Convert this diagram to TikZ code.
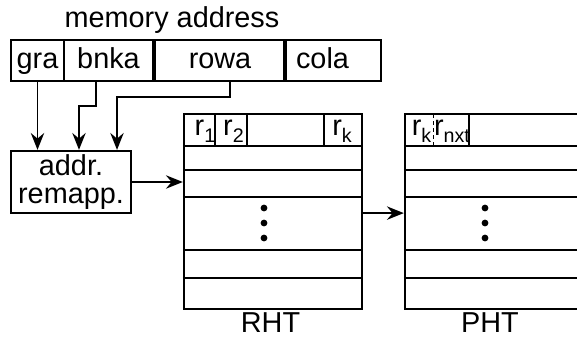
\documentclass[tikz,border=0pt]{standalone}
\usepackage{fontspec}
\setmainfont{Liberation Sans}
\usetikzlibrary{arrows.meta}
\newcommand{\rsub}[2]{#1\raisebox{-5.5pt}{\fontsize{14}{14}\selectfont #2}}
\tikzset{
	field/.style={draw, line width=1.6pt, minimum height=1.025cm, inner sep=0pt, text height=15pt, text depth=4pt},
	table/.style={draw, line width=1.6pt, minimum width=4.45cm, minimum height=4.875cm, inner sep=0pt},
	row/.style={line width=1.3pt},
	arr/.style={-{Stealth[length=12pt,width=9.5pt,inset=4pt]}, line width=1.3pt}
}
\begin{document}
\begin{tikzpicture}[x=0.025cm, y=-0.025cm, font=\fontsize{20.5}{20}\selectfont]
	\useasboundingbox (0,0) rectangle (577,345);
	\clip (0,0) rectangle (577,345);
	
	\node[anchor=base] (memaddr) at (172,27) {memory address};
	\node[field, minimum width=1.325cm] (gra) at (37.5,60.5) {gra};
	\node[field, minimum width=2.225cm] (bnka) at (108.5,60.5) {bnka};
	\node[field, minimum width=3.275cm] (rowa) at (220,60.5) {rowa};
	\node[field, minimum width=2.425cm] (cola) at (332.5,60.5) {\hspace*{-0.5cm}cola};
	
	\node[draw, line width=1.6pt, minimum width=3cm, minimum height=1.55cm, inner sep=0pt, align=center] (remap) at (71,182) {addr.\\remapp.};
	
	\draw[arr] (gra.south) -- (gra.south |- remap.north);
	\draw[arr] ([xshift=-0.3125cm]bnka.south) -- ++(0,24) -| ([xshift=0.2cm]remap.north);
	\draw[arr] ([xshift=0.25cm]rowa.south) -- ++(0,15) -| ([xshift=1.15cm]remap.north);
	
	\node[table] (rht) at (273,211.5) {};
	\foreach \y in {146,170,197,250,278}
		\draw[row] (rht.west |- 0,\y) -- (rht.east |- 0,\y);
	\foreach \x in {215,247,324}
		\draw[row] (\x,114) -- (\x,146);
	\node[anchor=base] (r1) at (205,135) {\rsub{r}{1}};
	\node[anchor=base] (r2) at (233.5,135) {\rsub{r}{2}};
	\node[anchor=base] (rk) at (342,135) {\rsub{r}{k}};
	\foreach \y in {208,223,238}
		\fill (264,\y) circle (3.4);
	\node[anchor=base] (rhtlabel) at (270.5,332) {RHT};
	
	\node[table] (pht) at (494,211.5) {};
	\foreach \y in {146,170,197,250,278}
		\draw[row] (pht.west |- 0,\y) -- (pht.east |- 0,\y);
	\draw[line width=0.4pt, densely dashed] (433,114) -- (433,146);
	\draw[row] (469,114) -- (469,146);
	\node[anchor=base] (pk) at (421.5,135) {\rsub{r}{k}};
	\node[anchor=base] (pnxt) at (452,135) {\rsub{r}{nxt}};
	\foreach \y in {208,223,238}
		\fill (485,\y) circle (3.4);
	\node[anchor=base] (phtlabel) at (490,332) {PHT};
	
	\draw[arr] (remap.east) -- (remap.east -| rht.west);
	\draw[arr] ([yshift=-0.04cm]rht.east) -- ([yshift=-0.04cm]rht.east -| pht.west);
\end{tikzpicture}
\end{document}
